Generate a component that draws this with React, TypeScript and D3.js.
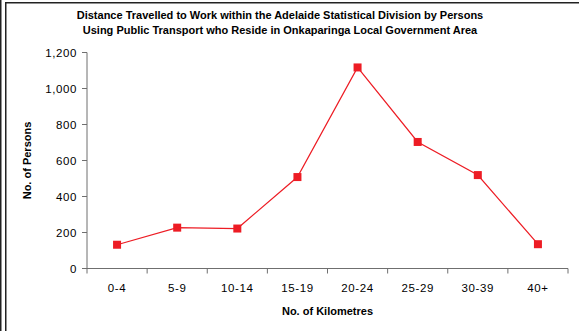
import React from "react";
import * as d3 from "d3";

const categories = ["0-4", "5-9", "10-14", "15-19", "20-24", "25-29", "30-39", "40+"];
const persons = [132, 227, 222, 508, 1117, 703, 519, 135];
const yTicks = [0, 200, 400, 600, 800, 1000, 1200];
const titleLines = [
  "Distance Travelled to Work within the Adelaide Statistical Division by Persons",
  "Using Public Transport who Reside in Onkaparinga Local Government Area",
];

const W = 579;
const H = 331;
const left = 87;
const right = 568;
const top = 52.5;
const bottom = 268.5;
const axisColor = "#6f6f6f";
const red = "#ed1c24";
const font = "Arial, 'Liberation Sans', sans-serif";

export default function App() {
  const x = d3.scaleBand<string>().domain(categories).range([left, right]).padding(0);
  const y = d3.scaleLinear().domain([0, 1200]).range([bottom, top]);
  const line = d3
    .line<number>()
    .x((_, i) => (x(categories[i]) as number) + x.bandwidth() / 2)
    .y((d) => y(d));
  const tickXs = [...categories.map((c) => x(c) as number), right];

  return (
    <svg
      width={W}
      height={H}
      style={{ position: "absolute", left: 0, top: 0, background: "#fff" }}
      fontFamily={font}
    >
      {/* frame */}
      <line x1={0.75} y1={0} x2={0.75} y2={H} stroke="#222" strokeWidth={1.5} />
      <line x1={5.75} y1={2.5} x2={5.75} y2={H} stroke="#222" strokeWidth={1.5} />
      <line x1={5} y1={2.75} x2={W} y2={2.75} stroke="#222" strokeWidth={1.5} />

      {/* title */}
      {titleLines.map((t, i) => (
        <text
          key={i}
          x={280}
          y={19 + i * 14.5}
          textAnchor="middle"
          fontSize={11}
          fontWeight="bold"
        >
          {t}
        </text>
      ))}

      {/* y axis */}
      <line x1={left} y1={top} x2={left} y2={bottom} stroke={axisColor} strokeWidth={1} />
      {yTicks.map((t) => (
        <g key={t}>
          <line x1={left - 5} x2={left} y1={y(t)} y2={y(t)} stroke={axisColor} />
          <text x={77} y={y(t) + 4} textAnchor="end" fontSize={11.5} letterSpacing={0.6}>
            {d3.format(",")(t)}
          </text>
        </g>
      ))}
      <text
        transform={`translate(31,${(top + bottom) / 2}) rotate(-90)`}
        textAnchor="middle"
        fontSize={11}
        fontWeight="bold"
      >
        No. of Persons
      </text>

      {/* x axis */}
      <line x1={left - 5} x2={right} y1={bottom} y2={bottom} stroke={axisColor} strokeWidth={1} />
      {tickXs.map((tx, i) => (
        <line key={i} x1={tx} x2={tx} y1={bottom} y2={bottom + 5} stroke={axisColor} />
      ))}
      {categories.map((c) => (
        <text
          key={c}
          x={(x(c) as number) + x.bandwidth() / 2}
          y={292}
          textAnchor="middle"
          fontSize={11.5}
          letterSpacing={0.6}
        >
          {c}
        </text>
      ))}
      <text x={(left + right) / 2} y={315} textAnchor="middle" fontSize={11} fontWeight="bold">
        No. of Kilometres
      </text>

      {/* series */}
      <path d={line(persons) ?? ""} fill="none" stroke={red} strokeWidth={1.2} />
      {persons.map((v, i) => (
        <rect
          key={i}
          x={(x(categories[i]) as number) + x.bandwidth() / 2 - 4}
          y={y(v) - 4}
          width={8}
          height={8}
          fill={red}
        />
      ))}
    </svg>
  );
}
